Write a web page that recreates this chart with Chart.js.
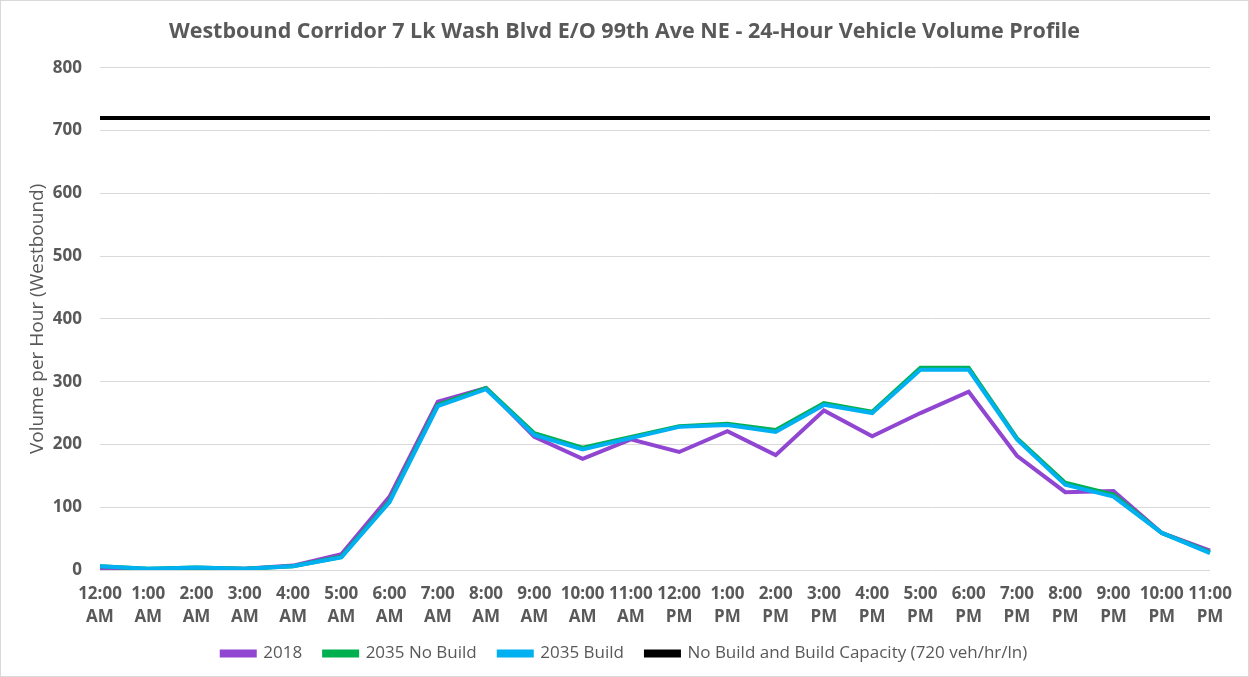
<!DOCTYPE html>
<html>
<head>
<meta charset="utf-8">
<script src="https://cdn.jsdelivr.net/npm/chart.js@4/dist/chart.umd.min.js"></script>
<style>
  body { margin: 0; background: #fff; }
  #wrap { width: 1249px; height: 677px; box-sizing: border-box; border: 1px solid #d9d9d9; }
</style>
</head>
<body>
<div id="wrap"><canvas id="grafico"></canvas></div>
<script>
const horas = [
  ['12:00', 'AM'], ['1:00', 'AM'], ['2:00', 'AM'], ['3:00', 'AM'], ['4:00', 'AM'], ['5:00', 'AM'],
  ['6:00', 'AM'], ['7:00', 'AM'], ['8:00', 'AM'], ['9:00', 'AM'], ['10:00', 'AM'], ['11:00', 'AM'],
  ['12:00', 'PM'], ['1:00', 'PM'], ['2:00', 'PM'], ['3:00', 'PM'], ['4:00', 'PM'], ['5:00', 'PM'],
  ['6:00', 'PM'], ['7:00', 'PM'], ['8:00', 'PM'], ['9:00', 'PM'], ['10:00', 'PM'], ['11:00', 'PM']
];

const vol2018 = [3, 1, 3, 2, 7, 25, 117, 268, 290, 212, 177, 208, 188, 221, 183, 254, 213, 250, 284, 182, 124, 126, 59, 31];
const vol2035NoBuild = [6, 2, 4, 2, 6, 21, 110, 263, 290, 218, 195, 212, 229, 233, 223, 266, 252, 322, 322, 210, 139, 120, 59, 28];
const vol2035Build = [6, 2, 4, 2, 6, 20, 108, 261, 288, 215, 192, 210, 228, 231, 220, 263, 250, 319, 319, 208, 136, 117, 59, 27];
const capacidade = [720, 720, 720, 720, 720, 720, 720, 720, 720, 720, 720, 720, 720, 720, 720, 720, 720, 720, 720, 720, 720, 720, 720, 720];

const cinza = '#595959';
const fonte = "'Open Sans', 'DejaVu Sans', sans-serif";

function serie(label, data, cor, ordem) {
  return {
    label: label,
    data: data,
    borderColor: cor,
    backgroundColor: cor,
    borderWidth: 4,
    pointRadius: 0,
    tension: 0,
    order: ordem
  };
}

const ctx = document.getElementById('grafico');
new Chart(ctx, {
  type: 'line',
  data: {
    labels: horas,
    datasets: [
      serie('2018', vol2018, '#9146d2', 4),
      serie('2035 No Build', vol2035NoBuild, '#00b050', 3),
      serie('2035 Build', vol2035Build, '#00b0f0', 2),
      serie('No Build and Build Capacity (720 veh/hr/ln)', capacidade, '#000000', 1)
    ]
  },
  options: {
    responsive: true,
    maintainAspectRatio: false,
    animation: false,
    layout: { padding: { left: 0, right: 0, top: 0, bottom: 4 } },
    plugins: {
      title: {
        display: true,
        text: 'Westbound Corridor 7 Lk Wash Blvd E/O 99th Ave NE - 24-Hour Vehicle Volume Profile',
        color: cinza,
        font: { family: fonte, size: 21.5, weight: 'bold' },
        padding: { top: 18, bottom: 23 }
      },
      legend: {
        position: 'bottom',
        labels: {
          color: cinza,
          font: { family: fonte, size: 17 },
          boxWidth: 33,
          boxHeight: 4,
          padding: 22,
          sort: (a, b) => a.datasetIndex - b.datasetIndex
        }
      },
      tooltip: { enabled: false }
    },
    scales: {
      x: {
        offset: false,
        grid: { display: false, drawTicks: false },
        border: { display: false },
        ticks: {
          color: cinza,
          font: { family: fonte, size: 17, weight: 'bold', lineHeight: 1.35 },
          maxRotation: 0,
          autoSkip: false,
          padding: 13
        },
        afterFit: (escala) => { escala.height = 53; }
      },
      y: {
        min: 0,
        max: 800,
        grid: { color: '#d9d9d9', lineWidth: 1, drawTicks: false },
        border: { display: false },
        ticks: {
          stepSize: 100,
          color: cinza,
          font: { family: fonte, size: 17, weight: 'bold' },
          padding: 18
        },
        title: {
          display: true,
          text: 'Volume per Hour (Westbound)',
          color: cinza,
          font: { family: fonte, size: 19 },
          padding: { top: 25, bottom: 0 }
        },
        afterFit: (escala) => { escala.width = 99; }
      },
      // eixo vazio só para reservar a margem direita
      direita: {
        position: 'right',
        grid: { display: false, drawTicks: false },
        border: { display: false },
        ticks: { display: false },
        afterFit: (escala) => { escala.width = 38; }
      }
    }
  }
});
</script>
</body>
</html>
